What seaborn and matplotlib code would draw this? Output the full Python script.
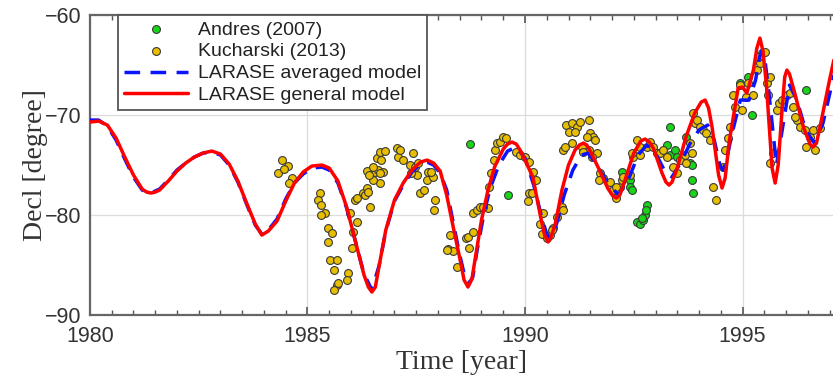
import numpy as np
import pandas as pd
import seaborn as sns
import matplotlib.pyplot as plt
from matplotlib.ticker import MultipleLocator

# --- data ---
general_year = [1980.0, 1980.2, 1980.4, 1980.6, 1980.8, 1981.0, 1981.2, 1981.3, 1981.4, 1981.5, 1981.6, 1981.8,
                1982.0, 1982.2, 1982.4, 1982.6, 1982.8, 1983.0, 1983.2, 1983.4, 1983.6, 1983.8,
                1983.95, 1984.1, 1984.3, 1984.5, 1984.7, 1984.9, 1985.1, 1985.33, 1985.5, 1985.7,
                1985.9, 1986.1, 1986.3, 1986.4, 1986.48, 1986.56, 1986.65, 1986.8, 1987.0, 1987.2, 1987.4, 1987.6,
                1987.75, 1987.9, 1988.05, 1988.2, 1988.35, 1988.5, 1988.6, 1988.69, 1988.78, 1988.85, 1989.0, 1989.15,
                1989.3, 1989.5, 1989.6, 1989.7, 1989.8, 1989.9, 1990.0, 1990.18, 1990.35, 1990.45, 1990.53, 1990.6,
                1990.7, 1990.85, 1991.0, 1991.15, 1991.25, 1991.34, 1991.42, 1991.5, 1991.7, 1991.9, 1992.02,
                1992.1, 1992.18, 1992.3, 1992.5, 1992.66, 1992.76, 1992.86,
                1992.95, 1993.15, 1993.24, 1993.31, 1993.38, 1993.5, 1993.7, 1993.9, 1994.05, 1994.14, 1994.22,
                1994.3, 1994.45, 1994.53, 1994.6, 1994.7,
                1994.9, 1995.0, 1995.1, 1995.25, 1995.33, 1995.4, 1995.47, 1995.55, 1995.68, 1995.75, 1995.82,
                1995.9, 1995.97, 1996.02, 1996.08, 1996.2, 1996.4, 1996.55, 1996.62, 1996.7,
                1996.8, 1997.0, 1997.1]
general_decl = [-70.7, -70.6, -71.0, -72.3, -74.2, -76.0, -77.4, -77.7, -77.8, -77.7, -77.5, -76.6,
                -75.6, -74.8, -74.2, -73.8, -73.6, -73.9, -74.9, -76.6, -78.8, -80.9,
                -82.0, -81.6, -80.6, -78.6, -76.8, -75.7, -75.1, -75.0, -75.3, -76.6,
                -79.2, -82.6, -86.0, -87.2, -87.7, -87.2, -85.0, -81.5, -78.5, -76.8, -75.5, -74.7,
                -74.5, -74.8, -75.6, -78.0, -81.2, -84.3, -86.5, -87.2, -86.4, -84.5, -80.5, -77.5,
                -75.2, -73.4, -72.9, -72.7, -72.9, -73.6, -74.5, -76.2, -80.0, -82.0, -82.7, -82.2,
                -80.8, -77.5, -75.0, -73.5, -73.0, -72.8, -73.0, -73.6, -75.4, -77.3, -78.1,
                -78.3, -78.0, -76.5, -73.8, -72.6, -72.4, -72.7,
                -73.3, -75.8, -76.7, -77.0, -76.7, -75.3, -72.2, -69.8, -68.7, -68.5, -69.3,
                -71.2, -76.0, -77.3, -76.3, -72.5,
                -67.3, -67.2, -67.8, -65.5, -63.3, -62.3, -63.6, -67.0, -75.3, -76.8, -75.0,
                -70.0, -66.2, -65.5, -65.9, -67.8, -71.2, -72.9, -73.2, -72.8,
                -70.8, -66.5, -64.5]

averaged_year = [1980.0, 1980.2, 1980.4, 1980.6, 1980.8, 1981.0, 1981.2, 1981.4, 1981.6, 1981.8,
                 1982.0, 1982.2, 1982.4, 1982.6, 1982.8, 1983.0, 1983.2, 1983.4, 1983.6, 1983.8,
                 1983.95, 1984.1, 1984.3, 1984.5, 1984.7, 1984.9, 1985.1, 1985.33, 1985.5, 1985.7,
                 1985.9, 1986.1, 1986.3, 1986.48, 1986.65, 1986.8, 1987.0, 1987.2, 1987.4, 1987.6,
                 1987.75, 1987.9, 1988.05, 1988.2, 1988.5, 1988.63, 1988.72, 1988.8, 1988.9, 1989.05, 1989.2, 1989.4,
                 1989.6, 1989.8, 1990.0, 1990.2, 1990.4, 1990.5, 1990.58, 1990.66, 1990.75, 1990.9, 1991.1, 1991.3,
                 1991.45, 1991.65, 1991.9, 1992.15, 1992.4, 1992.6, 1992.8, 1993.0, 1993.2, 1993.38,
                 1993.6, 1993.8, 1994.0, 1994.2, 1994.35, 1994.48, 1994.55, 1994.62, 1994.75, 1994.95, 1995.15, 1995.3,
                 1995.39, 1995.45, 1995.51, 1995.6, 1995.78, 1995.95, 1996.08, 1996.25, 1996.45, 1996.65, 1996.85, 1997.05,
                 1997.1]
averaged_decl = [-70.5, -70.5, -71.1, -72.5, -74.4, -76.2, -77.5, -77.8, -77.4, -76.5,
                 -75.5, -74.8, -74.2, -73.8, -73.7, -74.0, -75.0, -76.7, -78.9, -81.0,
                 -81.9, -81.5, -80.4, -78.4, -76.8, -75.9, -75.3, -75.2, -75.5, -76.8,
                 -79.3, -82.6, -85.9, -87.5, -85.0, -81.6, -78.6, -77.0, -75.7, -74.9,
                 -74.7, -75.0, -75.8, -77.5, -84.0, -86.4, -86.8, -86.2, -83.5, -80.0, -77.3, -75.0,
                 -73.6, -73.2, -74.3, -77.0, -80.5, -81.9, -82.3, -81.8, -80.5, -78.0, -75.5, -74.0,
                 -73.8, -75.0, -76.8, -78.0, -76.2, -74.0, -73.0, -73.8, -75.5, -76.2,
                 -74.6, -72.8, -71.5, -71.0, -72.5, -75.0, -75.5, -74.8, -72.0, -68.5, -68.5, -66.5,
                 -64.2, -63.5, -64.3, -67.5, -75.0, -70.5, -67.0, -68.5, -71.5, -72.8, -70.8, -67.0,
                 -66.0]

kucharski_year = [1984.32, 1984.41, 1984.55, 1984.64, 1984.57, 1984.47,
                  1985.29, 1985.25, 1985.30, 1985.40, 1985.30, 1985.48, 1985.56, 1985.48, 1985.52, 1985.67,
                  1985.60, 1985.94, 1985.90, 1985.67, 1985.60, 1985.98, 1986.05, 1986.02, 1986.13, 1986.10,
                  1985.71,
                  1986.28, 1986.36, 1986.44, 1986.67, 1986.13, 1986.32, 1986.40, 1986.51, 1986.55, 1986.63,
                  1986.74, 1986.59, 1986.70, 1986.67, 1986.78, 1986.37, 1986.51, 1986.67, 1986.42,
                  1987.05, 1987.09, 1987.20, 1987.36, 1987.43, 1987.13, 1987.47, 1987.59, 1987.67, 1987.74,
                  1987.78, 1987.89, 1987.93, 1987.91, 1987.51, 1987.55, 1987.39, 1987.85,
                  1988.28, 1988.24, 1988.34, 1988.43, 1988.20, 1988.64, 1988.70, 1988.80, 1988.72, 1988.80,
                  1988.89, 1988.97, 1989.16, 1989.04,
                  1989.18, 1989.21, 1989.29, 1989.31, 1989.35, 1989.43, 1989.49, 1989.56, 1989.79, 1989.89,
                  1990.00, 1990.10, 1990.19, 1990.25, 1990.10, 1990.08, 1990.15,
                  1990.42, 1990.34, 1990.38, 1990.50, 1990.57, 1990.65, 1990.73, 1990.84, 1990.88, 1990.61,
                  1990.87, 1990.95, 1991.07, 1991.19, 1991.26, 1991.46, 1991.00, 1991.15, 1991.49, 1991.57,
                  1991.61, 1991.42, 1990.92, 1991.07, 1991.30, 1991.46, 1991.34, 1991.65, 1991.53,
                  1991.72, 1991.80, 1991.69, 1991.95, 1992.03, 1992.10, 1992.18, 1992.22, 1992.26, 1992.41,
                  1992.49, 1992.45, 1992.57, 1992.64, 1992.80, 1992.87, 1992.95, 1993.03, 1993.10, 1993.18,
                  1993.26, 1993.41, 1993.49, 1993.56, 1993.68, 1993.71, 1993.79, 1992.64, 1992.10,
                  1993.87, 1993.91, 1993.95, 1994.02, 1994.10, 1994.17, 1994.25, 1993.83, 1994.33, 1994.40,
                  1994.56, 1994.60, 1994.67, 1994.71, 1994.79, 1994.83, 1994.94, 1994.98,
                  1995.13, 1995.09, 1995.25, 1995.33, 1995.40, 1995.44, 1995.52, 1995.36, 1995.56, 1995.59,
                  1995.63, 1995.71, 1995.63, 1995.79, 1995.83, 1995.91, 1996.02, 1996.09, 1996.17, 1996.25,
                  1996.32, 1996.44, 1996.47, 1996.55, 1996.63, 1996.67, 1996.78, 1996.20]
kucharski_decl = [-75.8, -74.5, -75.1, -76.3, -76.8, -75.4,
                  -77.8, -78.5, -79.0, -79.8, -80.0, -81.3, -81.8, -82.7, -84.5, -84.5,
                  -85.5, -85.8, -86.5, -87.0, -87.5, -79.8, -81.7, -83.3, -80.7, -78.5,
                  -86.8,
                  -77.8, -77.3, -79.2, -76.8, -78.3, -78.0, -77.7, -76.5, -75.7, -75.5,
                  -75.7, -74.3, -74.5, -73.7, -73.6, -75.6, -75.2, -75.8, -76.0,
                  -73.3, -74.2, -74.5, -75.0, -73.8, -73.5, -75.2, -77.8, -77.5, -76.5,
                  -75.7, -76.2, -78.5, -79.5, -76.0, -74.8, -75.8, -75.7,
                  -82.0, -83.4, -83.6, -85.2, -83.5, -82.3, -82.2, -81.7, -83.3, -79.8,
                  -79.5, -79.2, -79.3, -79.2,
                  -77.2, -75.8, -74.5, -73.5, -72.8, -72.7, -72.2, -72.3, -73.7, -74.0,
                  -74.2, -74.7, -75.7, -76.5, -77.8, -78.6, -77.8,
                  -79.8, -80.9, -81.9, -82.3, -82.0, -81.3, -80.2, -79.2, -79.5, -81.5,
                  -73.5, -71.0, -70.8, -71.2, -70.7, -70.5, -71.7, -71.7, -71.8, -72.2,
                  -72.5, -72.2, -73.2, -72.8, -73.2, -73.5, -73.7, -73.8, -74.2,
                  -75.8, -76.3, -76.5, -76.7, -77.5, -78.3, -77.2, -76.5, -76.2, -76.0,
                  -74.2, -73.8, -72.5, -73.2, -73.2, -72.7, -73.2, -73.8, -73.8, -73.5,
                  -74.2, -75.2, -75.8, -74.5, -74.0, -74.8, -72.8, -74.0, -77.2,
                  -69.8, -70.8, -70.5, -71.2, -71.5, -71.8, -72.5, -73.8, -77.2, -78.5,
                  -75.2, -73.5, -72.3, -71.2, -68.0, -69.2, -67.0, -69.5,
                  -66.8, -68.2, -68.0, -65.5, -64.8, -63.8, -63.7, -64.2, -66.8, -68.0,
                  -74.8, -73.8, -66.2, -69.5, -68.8, -68.5, -68.0, -67.8, -69.2, -70.5,
                  -71.2, -71.5, -73.2, -72.2, -71.5, -73.5, -71.3, -70.2]

andres_year = [1988.74, 1989.62, 1992.22, 1992.41, 1992.41, 1992.45, 1992.57, 1992.64, 1992.72, 1992.76,
               1992.80, 1992.78, 1992.68, 1993.33, 1993.26, 1993.33, 1993.45, 1993.49, 1993.71, 1993.79,
               1993.83, 1993.87, 1993.83, 1994.94, 1995.13, 1995.21, 1996.47]
andres_decl = [-72.9, -78.0, -75.7, -76.5, -77.2, -77.5, -80.7, -80.9, -80.5, -80.0,
               -79.0, -79.5, -80.3, -71.2, -73.0, -74.0, -73.5, -74.2, -72.2, -74.8,
               -76.5, -77.8, -75.0, -66.8, -66.2, -70.0, -67.5]

sns.set_theme(style="white")
plt.rcParams['font.family'] = ['Liberation Sans', 'DejaVu Sans']

fig = plt.figure(figsize=(8.33, 3.87), dpi=100)
ax = fig.add_axes([0.108, 0.186, 0.892, 0.775])

edge = '#3a3a3a'
sns.scatterplot(x=andres_year, y=andres_decl, ax=ax, color='#19d419', edgecolor=edge,
                s=32, linewidth=0.8, label='Andres (2007)', zorder=3)
sns.scatterplot(x=kucharski_year, y=kucharski_decl, ax=ax, color='#e8bf00', edgecolor=edge,
                s=32, linewidth=0.8, marker='o', label='Kucharski (2013)', zorder=3)
sns.lineplot(x=averaged_year, y=averaged_decl, ax=ax, color='#0a14ff', linewidth=2.5,
             sort=False, label='LARASE averaged model', zorder=4)
ax.lines[-1].set_dashes((4.5, 3))
sns.lineplot(x=general_year, y=general_decl, ax=ax, color='#ff0000', linewidth=2.5,
             sort=False, label='LARASE general model', zorder=5)
for ln in ax.lines:
    ln.set_solid_joinstyle('round')
    ln.set_dash_joinstyle('round')

ax.set_xlim(1980, 1997.08)
ax.set_ylim(-90, -60)
ax.set_xticks([1980, 1985, 1990, 1995])
ax.set_yticks([-90, -80, -70, -60])
ax.xaxis.set_minor_locator(MultipleLocator(0.5))

ax.grid(True, which='major', color='#dcdcdc', linewidth=0.9)
ax.set_axisbelow(True)
for side in ['left', 'top', 'bottom']:
    ax.spines[side].set_color('#666666')
    ax.spines[side].set_linewidth(1.6)
ax.spines['right'].set_visible(False)

ax.tick_params(axis='both', which='major', direction='in', length=6, width=1.2,
               color='#555555', labelsize=15.5, labelcolor='#333333', top=True, bottom=True)
ax.tick_params(axis='x', which='minor', direction='in', length=3.5, width=1.0,
               color='#555555', top=True, bottom=True)
ax.tick_params(axis='x', which='major', pad=8)
ax.tick_params(axis='y', which='major', pad=6)

serif = ['Liberation Serif', 'DejaVu Serif']
ax.set_xlabel('Time [year]', fontsize=20, family=serif, color='#333333', labelpad=2)
ax.set_ylabel('Decl [degree]', fontsize=20, family=serif, color='#333333', labelpad=-2)

leg = ax.legend(loc='upper left', bbox_to_anchor=(0.038, 1.0), borderaxespad=0,
                fontsize=14, handlelength=3.3, labelspacing=0.22, handletextpad=0.5,
                borderpad=0.3, fancybox=False, framealpha=1, edgecolor='#555555')
leg.get_frame().set_linewidth(1.3)
for t in leg.get_texts():
    t.set_color('#222222')

fig.savefig('out.png', dpi=100)
